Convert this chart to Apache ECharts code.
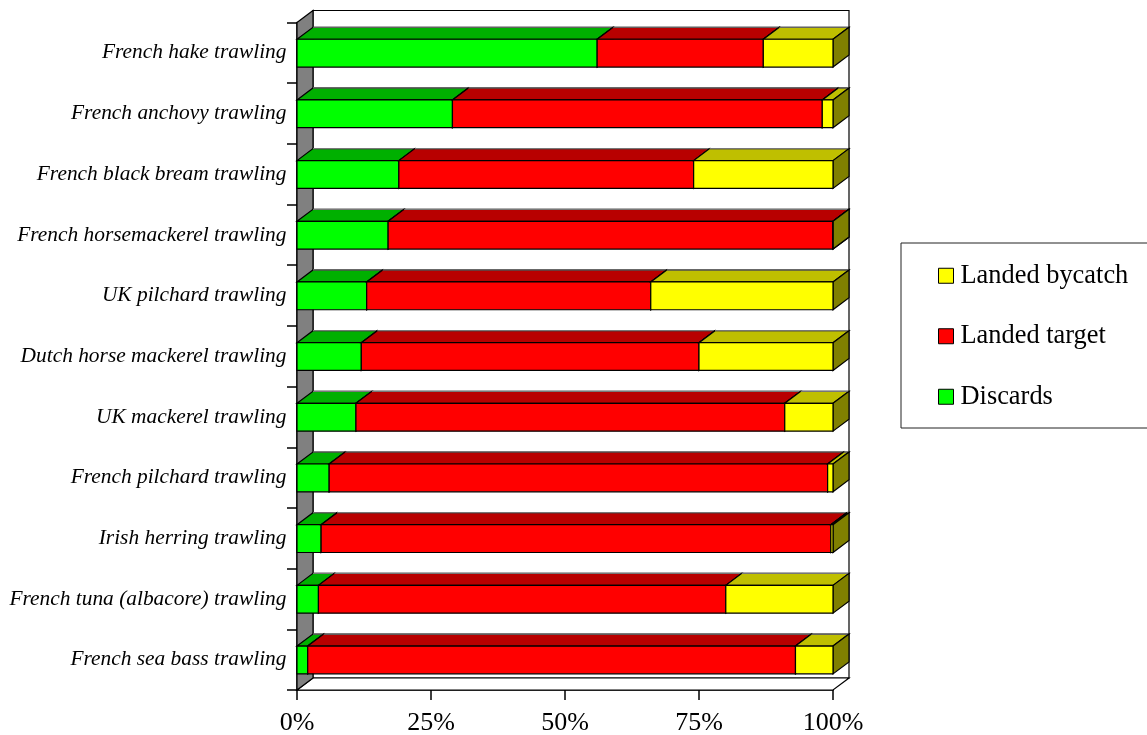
<!DOCTYPE html>
<html>
<head>
<meta charset="utf-8">
<style>html,body{margin:0;padding:0;background:#fff}#chart{width:1147px;height:735px}</style>
<script src="https://cdn.jsdelivr.net/npm/echarts@6/dist/echarts.min.js"></script>
</head>
<body>
<div id="chart"></div>
<script>
// Share of catch by fishery, percent of total
const fisheries = [
  'French hake trawling', 'French anchovy trawling', 'French black bream trawling',
  'French horsemackerel trawling', 'UK pilchard trawling', 'Dutch horse mackerel trawling',
  'UK mackerel trawling', 'French pilchard trawling', 'Irish herring trawling',
  'French tuna (albacore) trawling', 'French sea bass trawling'
];
const discards      = [56, 29, 19, 17, 13, 12, 11, 6, 4.5, 4, 2];
const landedTarget  = [31, 69, 55, 83, 53, 63, 80, 93, 95.1, 76, 91];
const landedBycatch = [13, 2, 26, 0, 34, 25, 9, 1, 0.4, 20, 7];
const percentTicks = [0, 25, 50, 75, 100];
const legendOrder = ['Landed bycatch', 'Landed target', 'Discards'];

// Extrusion of the pseudo-3D box
const DEPTH_X = 16;
const DEPTH_Y = -12;
const BAR_RATIO = 0.458;
const LINE = '#000';
const LINE_W = 1.2;

function poly(points, fill) {
  return {
    type: 'polygon',
    shape: { points: points },
    style: { fill: fill, stroke: LINE, lineWidth: LINE_W }
  };
}

// Walls and floor behind the bars, sized from the axes
function renderWalls(params, api) {
  const band = api.size([0, 1])[1];
  const tl = api.coord([0, 0]);
  const bl = api.coord([0, fisheries.length - 1]);
  const br = api.coord([100, fisheries.length - 1]);
  const top = tl[1] - band / 2;
  const bottom = bl[1] + band / 2;
  const x0 = tl[0];
  const x1 = br[0];
  return {
    type: 'group',
    children: [
      poly([[x0 + DEPTH_X, top + DEPTH_Y], [x1 + DEPTH_X, top + DEPTH_Y], [x1 + DEPTH_X, bottom + DEPTH_Y], [x0 + DEPTH_X, bottom + DEPTH_Y]], '#fff'),
      poly([[x0, bottom], [x1, bottom], [x1 + DEPTH_X, bottom + DEPTH_Y], [x0 + DEPTH_X, bottom + DEPTH_Y]], '#fff'),
      poly([[x0, top], [x0 + DEPTH_X, top + DEPTH_Y], [x0 + DEPTH_X, bottom + DEPTH_Y], [x0, bottom]], '#808080')
    ]
  };
}

// One stacked segment: front face, top face and right-hand side
function segmentRenderer(front, topFace, sideFace) {
  return function (params, api) {
    const a = api.coord([api.value(0), api.value(2)]);
    const b = api.coord([api.value(1), api.value(2)]);
    const h = api.size([0, 1])[1] * BAR_RATIO;
    const y0 = a[1] - h / 2 + 0.3;
    const y1 = y0 + h;
    const x0 = a[0];
    const x1 = b[0];
    return {
      type: 'group',
      children: [
        poly([[x0, y0], [x0 + DEPTH_X, y0 + DEPTH_Y], [x1 + DEPTH_X, y0 + DEPTH_Y], [x1, y0]], topFace),
        {
          // the far edge of the top face reads lighter than the rest of the outline
          type: 'line',
          shape: { x1: x0 + DEPTH_X, y1: y0 + DEPTH_Y, x2: x1 + DEPTH_X, y2: y0 + DEPTH_Y },
          style: { stroke: '#777', lineWidth: LINE_W }
        },
        poly([[x1, y0], [x1 + DEPTH_X, y0 + DEPTH_Y], [x1 + DEPTH_X, y1 + DEPTH_Y], [x1, y1]], sideFace),
        poly([[x0, y0], [x1, y0], [x1, y1], [x0, y1]], front)
      ]
    };
  };
}

function stackedData(values, before) {
  return values.map((v, i) => [before[i], before[i] + v, i]);
}

const axisStart = discards.map(() => 0);
const afterDiscards = discards.slice();
const afterTarget = discards.map((d, i) => d + landedTarget[i]);

const serif = '"Liberation Serif", "Times New Roman", serif';

const chart = echarts.init(document.getElementById('chart'), null, { renderer: 'canvas' });
chart.setOption({
  animation: false,
  backgroundColor: '#fff',
  grid: { left: 297, top: 22.5, width: 536, height: 667.5, containLabel: false, outerBoundsMode: 'none' },
  legend: {
    data: legendOrder,
    orient: 'vertical',
    left: 901,
    top: 243,
    padding: [17.75, 60, 16.25, 37],
    itemWidth: 15,
    itemHeight: 15,
    itemGap: 30.5,
    icon: 'rect',
    backgroundColor: '#fff',
    borderColor: '#222',
    borderWidth: 1,
    selectedMode: false,
    itemStyle: { borderColor: '#000', borderWidth: 1 },
    textStyle: { fontFamily: serif, fontSize: 26.4, color: '#000', lineHeight: 25, padding: [5, 0, 0, 2] }
  },
  xAxis: {
    type: 'value',
    min: 0,
    max: 100,
    interval: 25,
    splitLine: { show: false },
    axisLine: { show: true, onZero: false, lineStyle: { color: '#000', width: 1.5 } },
    axisTick: { show: true, length: 10, lineStyle: { color: '#000', width: 1.5 } },
    axisLabel: {
      margin: 20,
      fontFamily: serif,
      fontSize: 26,
      color: '#000',
      formatter: v => percentTicks.includes(v) ? v + '%' : ''
    }
  },
  yAxis: {
    type: 'category',
    inverse: true,
    data: fisheries,
    axisLine: { show: true, lineStyle: { color: '#000', width: 1.5 } },
    axisTick: { show: true, length: 10, alignWithLabel: false, lineStyle: { color: '#000', width: 1.5 } },
    axisLabel: {
      margin: 10.5,
      interval: 0,
      fontFamily: serif,
      fontStyle: 'italic',
      fontSize: 21.4,
      color: '#000',
      padding: [2, 0, 0, 0]
    }
  },
  series: [
    {
      type: 'custom',
      silent: true,
      z: 1,
      clip: false,
      data: [[0, 100, 0]],
      encode: { x: [0, 1], y: 2 },
      renderItem: renderWalls
    },
    {
      name: 'Discards',
      type: 'custom',
      z: 2,
      clip: false,
      itemStyle: { color: '#00ff00' },
      data: stackedData(discards, axisStart),
      encode: { x: [0, 1], y: 2 },
      renderItem: segmentRenderer('#00ff00', '#00b000', '#008000')
    },
    {
      name: 'Landed target',
      type: 'custom',
      z: 3,
      clip: false,
      itemStyle: { color: '#ff0000' },
      data: stackedData(landedTarget, afterDiscards),
      encode: { x: [0, 1], y: 2 },
      renderItem: segmentRenderer('#ff0000', '#b80000', '#800000')
    },
    {
      name: 'Landed bycatch',
      type: 'custom',
      z: 4,
      clip: false,
      itemStyle: { color: '#ffff00' },
      data: stackedData(landedBycatch, afterTarget),
      encode: { x: [0, 1], y: 2 },
      renderItem: segmentRenderer('#ffff00', '#bfbf00', '#808000')
    }
  ]
});
</script>
</body>
</html>
